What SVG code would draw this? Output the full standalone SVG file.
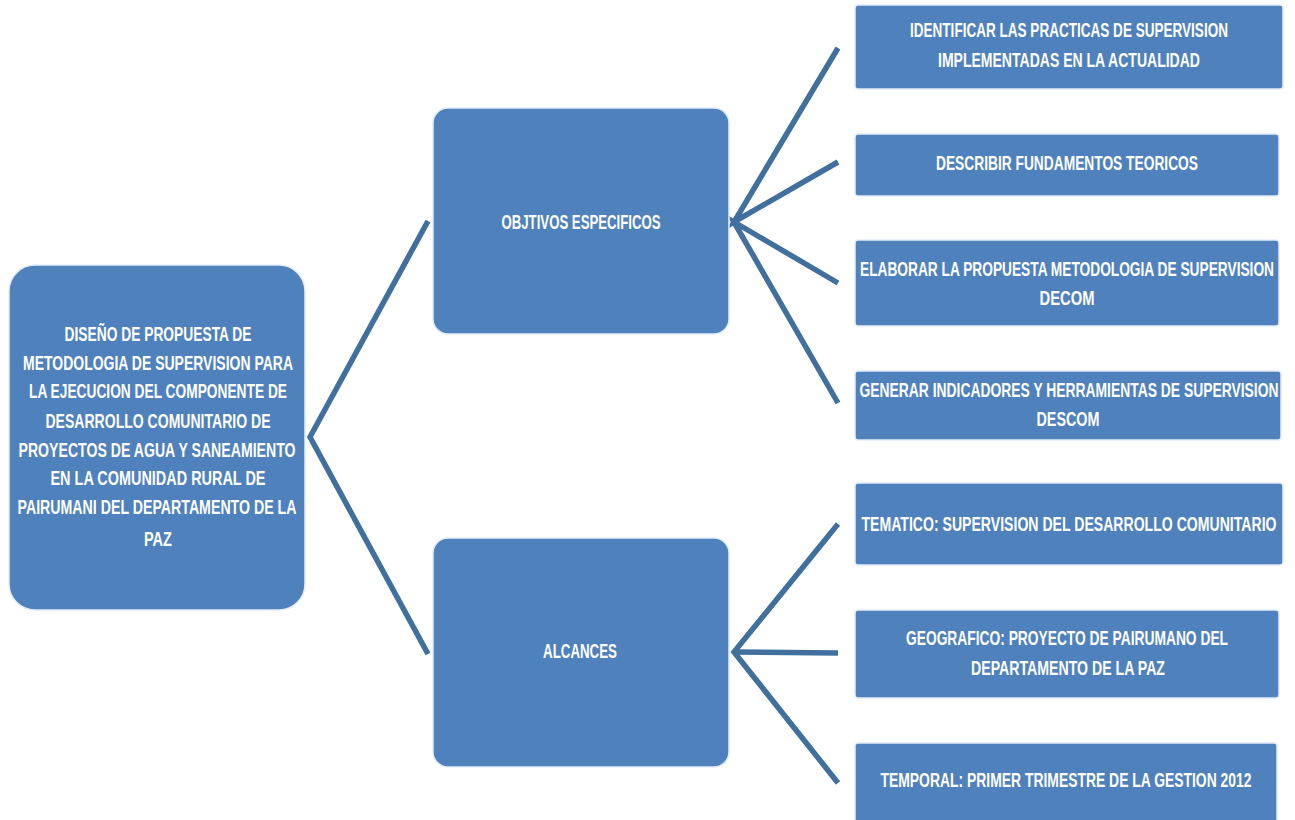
<svg xmlns="http://www.w3.org/2000/svg" width="1295" height="820" viewBox="0 0 1295 820">
<style>
.box{fill:#4F81BD;stroke:#E4ECF6;stroke-width:1.5}
.t{font-family:"Liberation Sans","Arial",sans-serif;font-size:21px;font-weight:bold;fill:#FFFFFF;text-anchor:middle;transform:scale(0.65,1)}
.c{fill:none;stroke:#41709F;stroke-width:5.5;stroke-linecap:butt;stroke-linejoin:miter}
</style>
<rect width="1295" height="820" fill="#FFFFFF"/>
<g id="connectors">
<polyline class="c" points="428,221 310,437 428,654"/>
<polyline class="c" points="838,48 734,222 838,162"/>
<polyline class="c" points="838,283 734,222 838,403"/>
<polyline class="c" points="838,524 734,652 838,783"/>
<line class="c" x1="734" y1="652" x2="838" y2="653"/>
</g>
<g id="root">
<rect class="box" x="9" y="265" width="296" height="345" rx="26"/>
<text class="t" x="243.08" y="341" textLength="287.7" lengthAdjust="spacingAndGlyphs">DISEÑO DE PROPUESTA DE</text>
<text class="t" x="243.08" y="370" textLength="415.4" lengthAdjust="spacingAndGlyphs">METODOLOGIA DE SUPERVISION PARA</text>
<text class="t" x="243.08" y="398" textLength="396.9" lengthAdjust="spacingAndGlyphs">LA EJECUCION DEL COMPONENTE DE</text>
<text class="t" x="243.08" y="428" textLength="346.2" lengthAdjust="spacingAndGlyphs">DESARROLLO COMUNITARIO DE</text>
<text class="t" x="241.54" y="457" textLength="426.2" lengthAdjust="spacingAndGlyphs">PROYECTOS DE  AGUA Y SANEAMIENTO</text>
<text class="t" x="243.08" y="485" textLength="330.8" lengthAdjust="spacingAndGlyphs">EN LA  COMUNIDAD RURAL DE</text>
<text class="t" x="241.54" y="514" textLength="429.2" lengthAdjust="spacingAndGlyphs">PAIRUMANI DEL DEPARTAMENTO DE LA</text>
<text class="t" x="243.08" y="546" textLength="43.1" lengthAdjust="spacingAndGlyphs">PAZ</text>
</g>
<g id="objetivos">
<rect class="box" x="433" y="108" width="296" height="226" rx="15"/>
<text class="t" x="893.85" y="229" textLength="244.6" lengthAdjust="spacingAndGlyphs">OBJTIVOS ESPECIFICOS</text>
</g>
<g id="alcances">
<rect class="box" x="433" y="538" width="296" height="229" rx="15"/>
<text class="t" x="892.31" y="658" textLength="113.8" lengthAdjust="spacingAndGlyphs">ALCANCES</text>
</g>
<g id="obj1">
<rect class="box" x="855" y="5" width="428" height="84" rx="3"/>
<text class="t" x="1644.62" y="37" textLength="489.2" lengthAdjust="spacingAndGlyphs">IDENTIFICAR LAS PRACTICAS DE SUPERVISION</text>
<text class="t" x="1644.62" y="67" textLength="403.1" lengthAdjust="spacingAndGlyphs">IMPLEMENTADAS EN LA ACTUALIDAD</text>
</g>
<g id="obj2">
<rect class="box" x="855" y="134" width="424" height="62" rx="3"/>
<text class="t" x="1641.54" y="170" textLength="403.1" lengthAdjust="spacingAndGlyphs">DESCRIBIR FUNDAMENTOS TEORICOS</text>
</g>
<g id="obj3">
<rect class="box" x="855" y="240" width="424" height="86" rx="3"/>
<text class="t" x="1641.54" y="276" textLength="636.9" lengthAdjust="spacingAndGlyphs">ELABORAR LA PROPUESTA METODOLOGIA DE SUPERVISION</text>
<text class="t" x="1641.54" y="305" textLength="84.6" lengthAdjust="spacingAndGlyphs">DECOM</text>
</g>
<g id="obj4">
<rect class="box" x="855" y="371" width="426" height="69" rx="3"/>
<text class="t" x="1644.62" y="397" textLength="644.6" lengthAdjust="spacingAndGlyphs">GENERAR INDICADORES  Y HERRAMIENTAS DE SUPERVISION</text>
<text class="t" x="1643.08" y="426" textLength="96.9" lengthAdjust="spacingAndGlyphs">DESCOM</text>
</g>
<g id="alc1">
<rect class="box" x="855" y="483" width="428" height="82" rx="3"/>
<text class="t" x="1644.62" y="531" textLength="638.5" lengthAdjust="spacingAndGlyphs">TEMATICO: SUPERVISION DEL  DESARROLLO COMUNITARIO</text>
</g>
<g id="alc2">
<rect class="box" x="855" y="610" width="424" height="88" rx="3"/>
<text class="t" x="1641.54" y="645" textLength="495.4" lengthAdjust="spacingAndGlyphs">GEOGRAFICO: PROYECTO DE PAIRUMANO DEL</text>
<text class="t" x="1643.08" y="675" textLength="298.5" lengthAdjust="spacingAndGlyphs">DEPARTAMENTO DE LA PAZ</text>
</g>
<g id="alc3">
<rect class="box" x="855" y="743" width="422" height="85" rx="3"/>
<text class="t" x="1640" y="787" textLength="570.8" lengthAdjust="spacingAndGlyphs">TEMPORAL: PRIMER TRIMESTRE DE LA GESTION 2012</text>
</g>
</svg>
